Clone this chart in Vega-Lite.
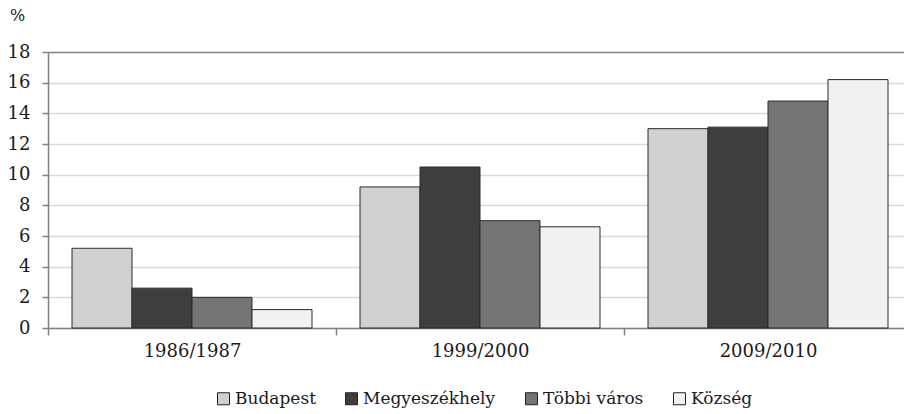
{
  "$schema": "https://vega.github.io/schema/vega-lite/v6.json",
  "width": 856,
  "height": 276,
  "autosize": {"type": "none"},
  "padding": {"left": 48, "top": 52, "right": 0, "bottom": 86},
  "background": "white",
  "config": {
    "view": {"stroke": null},
    "font": "DejaVu Serif"
  },
  "data": {
    "values": [
      {"year": "1986/1987", "type": "Budapest", "value": 5.2},
      {"year": "1986/1987", "type": "Megyeszékhely", "value": 2.6},
      {"year": "1986/1987", "type": "Többi város", "value": 2.0},
      {"year": "1986/1987", "type": "Község", "value": 1.2},
      {"year": "1999/2000", "type": "Budapest", "value": 9.2},
      {"year": "1999/2000", "type": "Megyeszékhely", "value": 10.5},
      {"year": "1999/2000", "type": "Többi város", "value": 7.0},
      {"year": "1999/2000", "type": "Község", "value": 6.6},
      {"year": "2009/2010", "type": "Budapest", "value": 13.0},
      {"year": "2009/2010", "type": "Megyeszékhely", "value": 13.1},
      {"year": "2009/2010", "type": "Többi város", "value": 14.8},
      {"year": "2009/2010", "type": "Község", "value": 16.2}
    ]
  },
  "mark": {"type": "bar", "stroke": "#2b2b2b", "strokeWidth": 1},
  "encoding": {
    "x": {
      "field": "year",
      "type": "nominal",
      "sort": null,
      "scale": {"range": [0, 864], "paddingInner": 0, "paddingOuter": 0},
      "axis": {
        "title": null,
        "labelAngle": 0,
        "labelFont": "DejaVu Serif",
        "tickBand": "extent",
        "tickSize": 7,
        "tickColor": "#808080",
        "tickWidth": 1.5,
        "domainColor": "#808080",
        "domainWidth": 1.5,
        "labelFontSize": 18,
        "labelColor": "#1a1a1a",
        "labelPadding": 7,
        "grid": false
      }
    },
    "xOffset": {
      "field": "type",
      "type": "nominal",
      "sort": ["Budapest", "Megyeszékhely", "Többi város", "Község"],
      "scale": {"paddingInner": 0, "paddingOuter": 0.4}
    },
    "y": {
      "field": "value",
      "type": "quantitative",
      "scale": {"domain": [0, 18], "nice": false},
      "axis": {
        "values": [0, 2, 4, 6, 8, 10, 12, 14, 16, 18],
        "title": "%",
        "titleFont": "DejaVu Serif",
        "titleAngle": 0,
        "titleFontSize": 16,
        "titleFontWeight": "normal",
        "titleColor": "#1a1a1a",
        "titleAlign": "center",
        "titleBaseline": "middle",
        "titleX": -31,
        "titleY": -37,
        "labelFont": "DejaVu Serif",
        "labelFontSize": 18,
        "labelColor": "#1a1a1a",
        "labelPadding": 12,
        "tickSize": 6,
        "tickColor": "#808080",
        "tickWidth": 1.5,
        "domainColor": "#808080",
        "domainWidth": 1.5,
        "grid": true,
        "gridWidth": 1.5,
        "gridColor": {"condition": {"test": "datum.value === 18", "value": "#808080"}, "value": "#d9d9d9"}
      }
    },
    "color": {
      "field": "type",
      "type": "nominal",
      "sort": ["Budapest", "Megyeszékhely", "Többi város", "Község"],
      "scale": {
        "domain": ["Budapest", "Megyeszékhely", "Többi város", "Község"],
        "range": ["#d0d0d2", "#403d3f", "#767374", "#f0f2f1"]
      },
      "legend": {
        "title": null,
        "orient": "none",
        "direction": "horizontal",
        "legendX": 167,
        "legendY": 338,
        "symbolType": "square",
        "symbolSize": 144,
        "symbolStrokeColor": "#222222",
        "symbolStrokeWidth": 1,
        "symbolOpacity": 1,
        "labelFont": "DejaVu Serif",
        "labelFontSize": 17,
        "labelColor": "#1a1a1a",
        "labelOffset": 3,
        "columnPadding": 27
      }
    }
  }
}
